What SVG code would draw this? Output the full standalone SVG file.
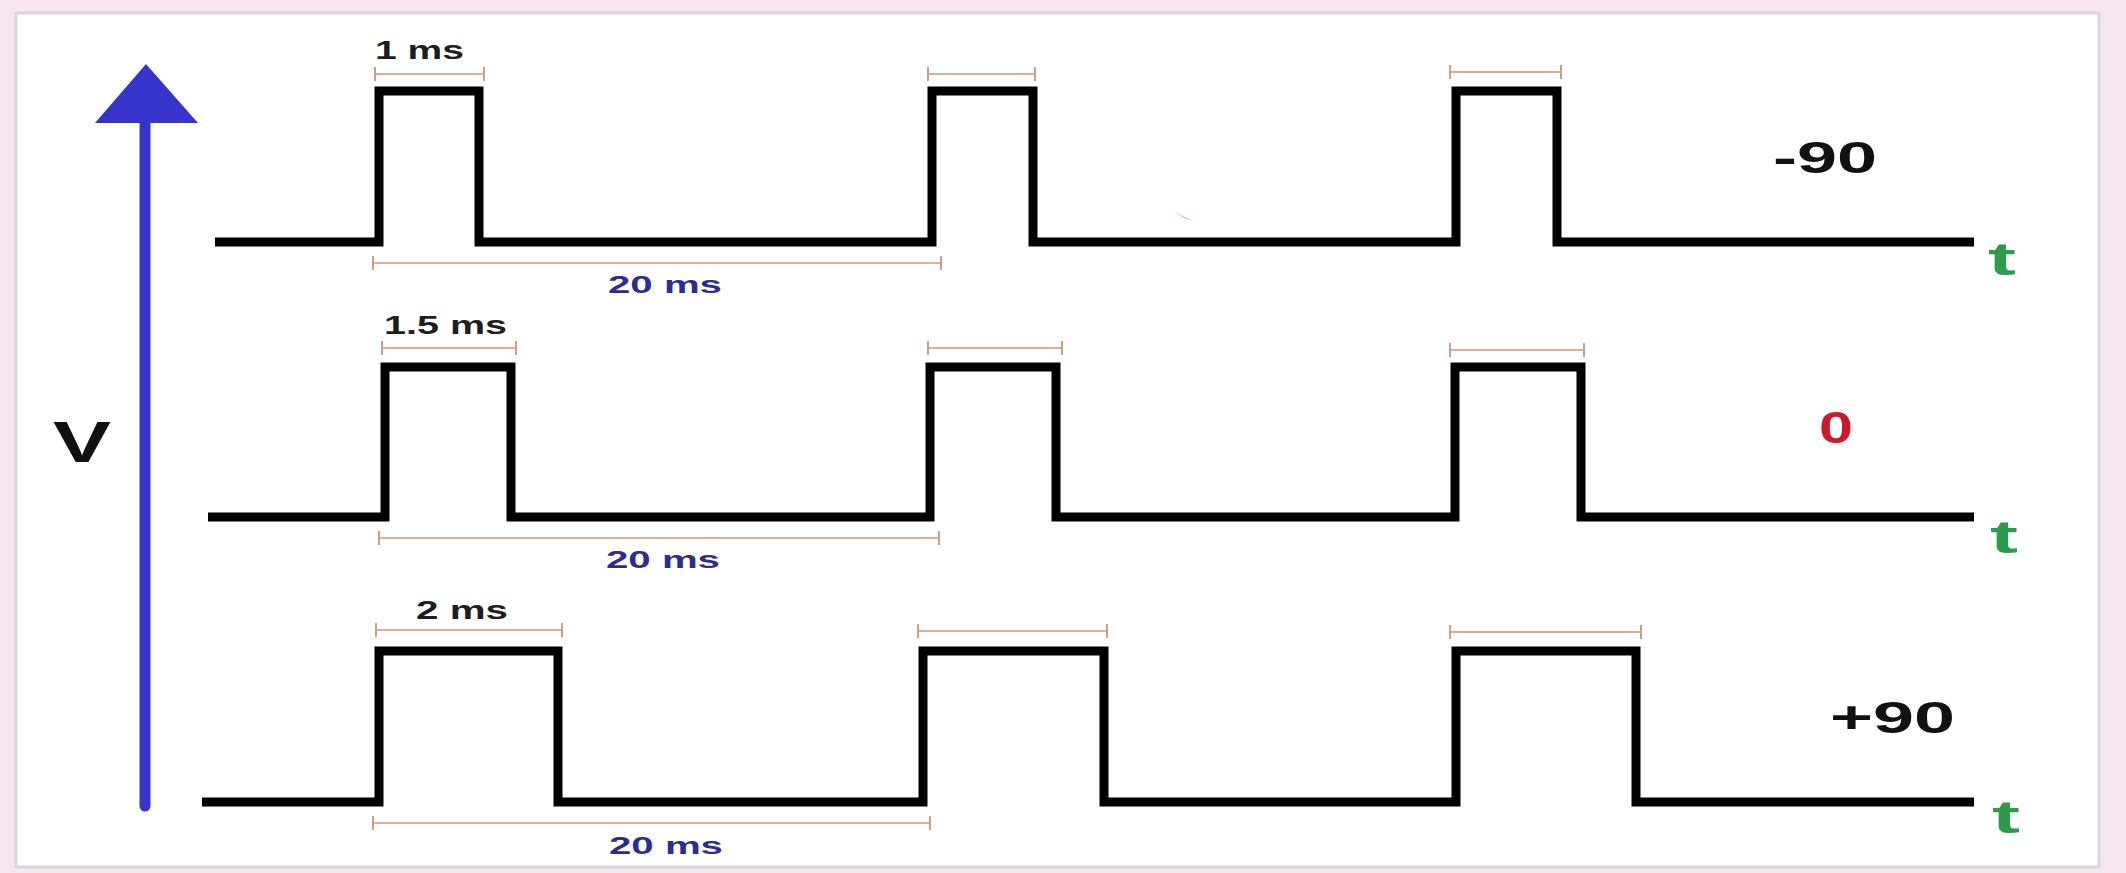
<svg xmlns="http://www.w3.org/2000/svg" width="2126" height="873" viewBox="0 0 2126 873">
<style>
.wave{fill:none;stroke:#000;stroke-width:9;stroke-linejoin:miter;stroke-linecap:butt}
.dim{fill:none;stroke:#e3ad8e;stroke-width:2}
.tick{fill:none;stroke:#c9a08a;stroke-width:2}
.lbl{font-family:"Liberation Sans",Arial,sans-serif;font-weight:bold;font-size:25px;fill:#1e1e1e}
.per{font-family:"Liberation Sans",Arial,sans-serif;font-weight:bold;font-size:24px;fill:#2d2d8f}
.ang{font-family:"Liberation Sans",Arial,sans-serif;font-weight:bold;font-size:44px;fill:#111}
.t{font-family:"Liberation Sans",Arial,sans-serif;font-weight:bold;font-size:46px;fill:#2e9a4c}
</style>
<rect x="0" y="0" width="2126" height="873" fill="#f7e6f1"/>
<rect x="16" y="13" width="2083" height="854" fill="#ffffff" stroke="#d9d9d9" stroke-width="3"/>
<path d="M1120 150 A128 80 0 0 0 1200 222 Z" fill="none"/>
<path d="M1172 208 Q1180 217 1194 221 Q1182 219 1172 208 Z" fill="#c8283c"/>
<g id="v-axis">
<line x1="145" y1="118" x2="145" y2="806" stroke="#3535cc" stroke-width="11" stroke-linecap="round"/>
<polygon points="146,64 95,123 198,123" fill="#3535cc"/>
<text x="53" y="462" font-family="Liberation Sans, Arial, sans-serif" font-weight="bold" font-size="58" fill="#111" textLength="58" lengthAdjust="spacingAndGlyphs">V</text>
</g>
<g id="row-minus90">
<polyline class="wave" points="215,242 379,242 379,91 479,91 479,242 932,242 932,91 1033,91 1033,242 1456,242 1456,91 1557,91 1557,242 1974,242"/>
<g>
<path class="dim" d="M375 74 H484 M928 74 H1035 M1450 72 H1561 M373 263 H941"/>
<path class="tick" d="M375 67 V81 M484 67 V81 M928 67 V81 M1035 67 V81 M1450 65 V79 M1561 65 V79 M373 256 V270 M941 256 V270"/>
</g>
<text class="lbl" x="375" y="59" textLength="89" lengthAdjust="spacingAndGlyphs">1 ms</text>
<text class="per" x="608" y="293" textLength="114" lengthAdjust="spacingAndGlyphs">20 ms</text>
<text class="ang" x="1773" y="173" textLength="104" lengthAdjust="spacingAndGlyphs">-90</text>
<text class="t" x="1988" y="275" textLength="28" lengthAdjust="spacingAndGlyphs">t</text>
</g>
<g id="row-0">
<polyline class="wave" points="208,517 385,517 385,367 511,367 511,517 930,517 930,367 1056,367 1056,517 1455,517 1455,367 1581,367 1581,517 1974,517"/>
<g>
<path class="dim" d="M382 348 H516 M928 348 H1062 M1450 350 H1584 M379 538 H939"/>
<path class="tick" d="M382 341 V355 M516 341 V355 M928 341 V355 M1062 341 V355 M1450 343 V357 M1584 343 V357 M379 531 V545 M939 531 V545"/>
</g>
<text class="lbl" x="384" y="334" textLength="123" lengthAdjust="spacingAndGlyphs">1.5 ms</text>
<text class="per" x="606" y="568" textLength="114" lengthAdjust="spacingAndGlyphs">20 ms</text>
<text class="ang" x="1819" y="443" fill="#cc1a2c" style="fill:#cc1a2c" textLength="34" lengthAdjust="spacingAndGlyphs">0</text>
<text class="t" x="1990" y="553" textLength="28" lengthAdjust="spacingAndGlyphs">t</text>
</g>
<g id="row-plus90">
<polyline class="wave" points="202,802 379,802 379,651 558,651 558,802 923,802 923,651 1104,651 1104,802 1456,802 1456,651 1636,651 1636,802 1974,802"/>
<g>
<path class="dim" d="M376 630 H562 M918 631 H1107 M1450 632 H1641 M373 823 H930"/>
<path class="tick" d="M376 623 V637 M562 623 V637 M918 624 V638 M1107 624 V638 M1450 625 V639 M1641 625 V639 M373 816 V830 M930 816 V830"/>
</g>
<text class="lbl" x="416" y="619" textLength="92" lengthAdjust="spacingAndGlyphs">2 ms</text>
<text class="per" x="609" y="854" textLength="114" lengthAdjust="spacingAndGlyphs">20 ms</text>
<text class="ang" x="1830" y="733" textLength="125" lengthAdjust="spacingAndGlyphs">+90</text>
<text class="t" x="1992" y="833" textLength="28" lengthAdjust="spacingAndGlyphs">t</text>
</g>
</svg>
